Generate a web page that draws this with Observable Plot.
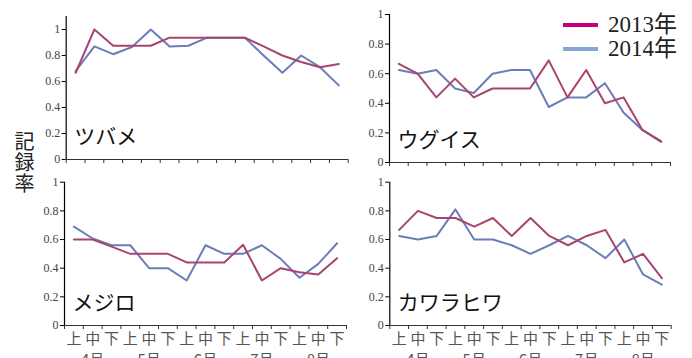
<!DOCTYPE html>
<html>
<head>
<meta charset="utf-8">
<script src="https://cdn.jsdelivr.net/npm/d3@7"></script>
<script src="https://cdn.jsdelivr.net/npm/@observablehq/plot@0.6"></script>
<style>
  html, body { margin: 0; padding: 0; background: #fff; }
  #chart { position: relative; width: 692px; height: 358px; overflow: hidden;
           font-family: "Liberation Serif", "Noto Sans CJK JP", serif; }
  .panel { position: absolute; }
  #ylabel { position: absolute; left: 13px; top: 131px; width: 22px;
            writing-mode: vertical-rl; text-orientation: upright; letter-spacing: 1px;
            font-family: "Noto Sans CJK JP", sans-serif; font-size: 20px; line-height: 22px;
            color: #222; }
  .legend-row { position: absolute; left: 563px; height: 26px; display: flex; align-items: center; }
  .legend-row .sw { width: 35px; height: 4px; margin-right: 10px; }
  .legend-row .lab { font-size: 23px; color: #222; line-height: 26px; }
</style>
</head>
<body>
<div id="chart"></div>
<script>
// Ten-day periods (上旬・中旬・下旬) across April–August
const periods = ["上", "中", "下"];
const months = ["4月", "5月", "6月", "7月", "8月"];
const years = ["2013年", "2014年"];
const yearColors = ["#a8446f", "#6b7db8"];
const legendColors = ["#c2007a", "#86a6d6"];

// Recording rates per ten-day period
const tsubame2013 = [0.667, 1.0, 0.875, 0.875, 0.875, 0.9375, 0.9375, 0.9375, 0.9375, 0.9375, 0.87, 0.8, 0.75, 0.71, 0.735];
const tsubame2014 = [0.68, 0.87, 0.81, 0.865, 1.0, 0.87, 0.875, 0.9375, 0.9375, 0.9375, 0.8, 0.667, 0.8, 0.71, 0.57];
const uguisu2013 = [0.667, 0.6, 0.44, 0.567, 0.44, 0.5, 0.5, 0.5, 0.69, 0.44, 0.625, 0.4, 0.44, 0.22, 0.14];
const uguisu2014 = [0.625, 0.6, 0.625, 0.5, 0.47, 0.6, 0.625, 0.625, 0.375, 0.44, 0.44, 0.536, 0.336, 0.22, 0.144];
const mejiro2013 = [0.6, 0.6, 0.55, 0.5, 0.5, 0.5, 0.44, 0.44, 0.44, 0.563, 0.314, 0.4, 0.372, 0.356, 0.47];
const mejiro2014 = [0.69, 0.607, 0.56, 0.56, 0.4, 0.4, 0.314, 0.56, 0.5, 0.5, 0.56, 0.465, 0.333, 0.43, 0.574];
const kawarahiwa2013 = [0.667, 0.8, 0.75, 0.75, 0.69, 0.75, 0.625, 0.75, 0.625, 0.56, 0.625, 0.667, 0.44, 0.5, 0.33];
const kawarahiwa2014 = [0.625, 0.6, 0.625, 0.81, 0.6, 0.6, 0.56, 0.5, 0.56, 0.625, 0.56, 0.47, 0.6, 0.356, 0.286];

const slots = months.flatMap((m, mi) => periods.map((p, pi) => ({month: m, period: p, i: mi * 3 + pi})));

const serifFont = "'Liberation Serif', 'DejaVu Serif', serif";
const jpFont = "'Noto Sans CJK JP', sans-serif";

function panel({name, s2013, s2014, yMax, left, top, width, height, margins, showX}) {
  const rows = [
    ...s2014.map((v, i) => ({year: years[1], i, v})),
    ...s2013.map((v, i) => ({year: years[0], i, v}))
  ];
  const marks = [
    Plot.ruleX([0], {y1: 0, y2: yMax, stroke: "#000", strokeWidth: 1.2}),
    Plot.ruleY([0], {x1: 0, x2: 15, stroke: "#333", strokeWidth: 1.2}),
    Plot.axisY({
      ticks: [0, 0.2, 0.4, 0.6, 0.8, 1],
      tickFormat: d => (d === 0 || d === 1) ? String(d) : d.toFixed(1),
      tickSize: 4, tickPadding: 2, fontSize: 12, fontFamily: serifFont,
      stroke: "#000", fill: "#444", label: null
    }),
    Plot.axisX({ticks: d3.range(0, 16), tickFormat: () => "", tickSize: 4, stroke: "#333", label: null}),
    Plot.lineY(rows, {x: d => d.i + 0.5, y: "v", z: "year", stroke: "year", strokeWidth: 2}),
    Plot.text([name], {frameAnchor: "bottom-left", dx: 8, dy: -16, fontSize: 21, fill: "#111",
                       fontFamily: jpFont, textAnchor: "start"})
  ];
  if (showX) {
    marks.push(
      Plot.axisX({ticks: slots.map(s => s.i + 0.5), tickFormat: t => slots[Math.floor(t)].period,
                  tickSize: 0, tickPadding: 8, fontSize: 15, fill: "#555", fontFamily: jpFont, label: null}),
      Plot.axisX({ticks: months.map((m, mi) => mi * 3 + 1.5), tickFormat: t => months[Math.floor(t / 3)],
                  tickSize: 0, tickPadding: 29, fontSize: 15, fill: "#555", fontFamily: jpFont, label: null})
    );
  }
  const svg = Plot.plot({
    width, height,
    marginLeft: margins[0], marginRight: margins[1], marginTop: margins[2], marginBottom: margins[3],
    style: {fontFamily: serifFont, background: "transparent", overflow: "visible"},
    x: {domain: [0, 15]},
    y: {domain: [0, yMax]},
    color: {domain: years, range: yearColors},
    marks
  });
  svg.classList.add("panel");
  svg.style.left = left + "px";
  svg.style.top = top + "px";
  return svg;
}

const chart = document.getElementById("chart");
chart.append(
  panel({name: "ツバメ", s2013: tsubame2013, s2014: tsubame2014, yMax: 1.1, left: 0, top: 0,
         width: 350, height: 170, margins: [65.7, 2.3, 16, 11], showX: false}),
  panel({name: "ウグイス", s2013: uguisu2013, s2014: uguisu2014, yMax: 1, left: 340, top: 0,
         width: 352, height: 170, margins: [49, 22, 14, 8], showX: false}),
  panel({name: "メジロ", s2013: mejiro2013, s2014: mejiro2014, yMax: 1, left: 0, top: 170,
         width: 350, height: 188, margins: [64, 4, 11.7, 33], showX: true}),
  panel({name: "カワラヒワ", s2013: kawarahiwa2013, s2014: kawarahiwa2014, yMax: 1, left: 340, top: 170,
         width: 352, height: 188, margins: [49.3, 21.3, 11.7, 33], showX: true})
);

// Vertical y-axis title
const ylabel = document.createElement("div");
ylabel.id = "ylabel";
ylabel.textContent = "記録率";
chart.append(ylabel);

// Legend
years.forEach((y, k) => {
  const row = document.createElement("div");
  row.className = "legend-row";
  row.style.top = (12 + k * 24) + "px";
  row.innerHTML = `<div class="sw" style="background:${legendColors[k]}"></div><div class="lab">${y}</div>`;
  chart.append(row);
});
</script>
</body>
</html>
